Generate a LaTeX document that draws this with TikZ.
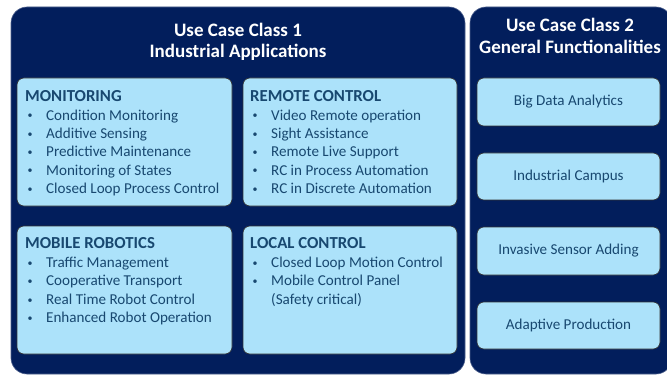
\documentclass[tikz,border=0pt]{standalone}
\usepackage{fontspec}
\setmainfont{Carlito}
\definecolor{navy}{RGB}{2,30,92}
\definecolor{lightbox}{RGB}{172,226,250}
\definecolor{boxtext}{RGB}{24,72,112}
\begin{document}
\begin{tikzpicture}[x=1pt,y=-1pt,
  panel/.style={fill=navy,draw=navy!70,line width=0.6pt,rounded corners=16pt},
  inbox/.style={fill=lightbox,draw=black!80,line width=0.6pt,rounded corners=7pt},
  paneltitle/.style={text=white,font=\fontsize{19}{21.5}\selectfont\bfseries,align=center,inner sep=0pt},
  listtext/.style={text=boxtext,font=\fontsize{15.1}{18.3}\selectfont,align=left,anchor=north west,inner sep=0pt},
  centertext/.style={text=boxtext,font=\fontsize{15.1}{16}\selectfont,inner sep=0pt}
]
\newcommand{\bul}{\hspace*{2.5pt}\makebox[18.5pt][l]{\raisebox{1.2pt}{\fontsize{10}{10}\selectfont\textbullet}}}
\newcommand{\cont}{\hspace*{21pt}}
\newcommand{\boxhead}[1]{{\fontsize{16.8}{18.3}\selectfont\bfseries #1}}
\useasboundingbox (0,0) rectangle (667,377);
% panels
\draw[panel] (11,7) rectangle (465,374);
\draw[panel] (470,7) rectangle (672,374);
\node[paneltitle] (t1) at (238,42) {Use Case Class 1\\Industrial Applications};
\node[paneltitle] (t2) at (570,36) {Use Case Class 2\\General Functionalities};
% left boxes
\draw[inbox] (17,78) rectangle (232,206);
\draw[inbox] (243,78) rectangle (457,206);
\draw[inbox] (17,226) rectangle (232,354);
\draw[inbox] (243,226) rectangle (457,354);
\node[listtext] (mon) at (25,90) {\boxhead{MONITORING}\\[0.6pt]
\bul Condition Monitoring\\
\bul Additive Sensing\\
\bul Predictive Maintenance\\
\bul Monitoring of States\\
\bul Closed Loop Process Control};
\node[listtext] (rc) at (250,90) {\boxhead{REMOTE CONTROL}\\[0.6pt]
\bul Video Remote operation\\
\bul Sight Assistance\\
\bul Remote Live Support\\
\bul RC in Process Automation\\
\bul RC in Discrete Automation};
\node[listtext] (mr) at (25,237.5) {\boxhead{MOBILE ROBOTICS}\\[0.6pt]
\bul Traffic Management\\
\bul Cooperative Transport\\
\bul Real Time Robot Control\\
\bul Enhanced Robot Operation};
\node[listtext] (lc) at (250,237.5) {\boxhead{LOCAL CONTROL}\\[0.6pt]
\bul Closed Loop Motion Control\\
\bul Mobile Control Panel\\
\cont (Safety critical)};
% right boxes
\node[inbox,minimum width=183pt,minimum height=48pt] (bd) at (568.5,102) {};
\node[centertext] (bdt) at (bd) {Big Data Analytics};
\node[inbox,minimum width=183pt,minimum height=47pt] (ic) at (568.5,176.5) {};
\node[centertext] (ict) at (ic) {Industrial Campus};
\node[inbox,minimum width=183pt,minimum height=48pt] (is) at (568.5,251) {};
\node[centertext] (ist) at (is) {Invasive Sensor Adding};
\node[inbox,minimum width=183pt,minimum height=47pt] (ap) at (568.5,325.5) {};
\node[centertext] (apt) at (ap) {Adaptive Production};
\end{tikzpicture}
\end{document}
